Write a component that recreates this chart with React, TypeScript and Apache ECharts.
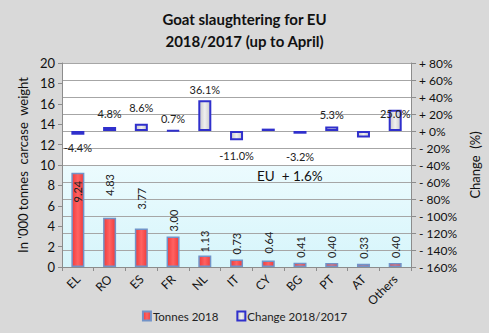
import React, { useEffect, useRef } from "react";
import * as echarts from "echarts";

const categories = ["EL", "RO", "ES", "FR", "NL", "IT", "CY", "BG", "PT", "AT", "Others"];
const tonnes2018 = [9.24, 4.83, 3.77, 3.0, 1.13, 0.73, 0.64, 0.41, 0.4, 0.33, 0.4];
const change = [-4.4, 4.8, 8.6, 0.7, 36.1, -11.0, 2.8, -3.2, 5.3, -7.5, 25.0];
const changeLabelShown = [true, true, true, true, true, true, false, true, true, false, true];
const euTotalText = "EU  + 1.6%";

// label styling (distances in px)
const tonnesLabelGap = [8, 22, 19, 5, 3, 5, 7, 5, 5, 5, 5];
const changeLabelGap = [7, 7.5, 11, 6, 5, 10, 6, 17, 6, 6, -9];

const FONT = "Lato, 'DejaVu Sans', sans-serif";

export default function App() {
  const ref = useRef<HTMLDivElement>(null);
  useEffect(() => {
    if (!ref.current) return;
    const chart = echarts.init(ref.current, null, { renderer: "svg" });

    const redFill = new echarts.graphic.LinearGradient(0, 0, 1, 0, [
      { offset: 0, color: "#f03c3c" },
      { offset: 0.5, color: "#ff6262" },
      { offset: 1, color: "#f03c3c" },
    ]);
    const greyFill = new echarts.graphic.LinearGradient(0, 0, 1, 0, [
      { offset: 0, color: "#c8c8c8" },
      { offset: 0.5, color: "#f0f0f0" },
      { offset: 1, color: "#c8c8c8" },
    ]);

    const tonnesData = tonnes2018.map((v, i) => {
      const inside = i === 0;
      return {
        value: v,
        label: {
          show: true,
          position: inside ? "insideTop" : "top",
          rotate: 90,
          align: inside ? "right" : "left",
          verticalAlign: "middle",
          distance: tonnesLabelGap[i],
          formatter: (p: any) => Number(p.value).toFixed(2),
          fontSize: 11,
          color: "#222",
          fontFamily: FONT,
        },
      };
    });

    const changeData = change.map((v, i) => ({
      value: v,
      label: {
        show: changeLabelShown[i],
        position: v >= 0 ? "top" : "bottom",
        distance: changeLabelGap[i],
        formatter: (p: any) => Number(p.value).toFixed(1) + "%",
        fontSize: 11,
        color: "#222",
        fontFamily: FONT,
      },
    }));

    chart.setOption({
      animation: false,
      backgroundColor: "#d9d9d9",
      textStyle: { fontFamily: FONT },
      title: {
        text: "Goat slaughtering for EU\n2018/2017 (up to April)",
        left: "center",
        top: 3,
        textStyle: {
          fontSize: 15,
          fontWeight: "bold",
          color: "#111",
          lineHeight: 22,
          fontFamily: FONT,
        },
      },
      legend: {
        bottom: 6,
        left: "center",
        itemWidth: 8,
        itemHeight: 9,
        itemGap: 18,
        icon: "rect",
        textStyle: { fontSize: 11.5, color: "#222", fontFamily: FONT, padding: [0, 0, 0, -3] },
        data: ["Tonnes 2018", "Change 2018/2017"],
      },
      grid: {
        left: 62,
        right: 70,
        top: 63,
        bottom: 66,
        show: true,
        borderWidth: 0,
        backgroundColor: new echarts.graphic.LinearGradient(0, 0, 0, 1, [
          { offset: 0, color: "#ffffff" },
          { offset: 0.5, color: "#ffffff" },
          { offset: 0.5, color: "#ecfbfe" },
          { offset: 1, color: "#d6f5fb" },
        ]),
      },
      graphic: [
        {
          type: "text",
          left: 257,
          top: 169,
          style: { text: euTotalText, fontSize: 13.5, fill: "#111", fontFamily: FONT },
        },
      ],
      xAxis: {
        type: "category",
        data: categories,
        axisLine: { lineStyle: { color: "#8c8c8c" } },
        axisTick: { show: true, alignWithLabel: false, length: 4, lineStyle: { color: "#8c8c8c" } },
        axisLabel: { rotate: 45, interval: 0, fontSize: 12, color: "#111", margin: 10, fontFamily: FONT },
      },
      yAxis: [
        {
          type: "value",
          min: 0,
          max: 20,
          interval: 2,
          position: "left",
          name: "In '000 tonnes  carcase  weight",
          nameLocation: "middle",
          nameGap: 26,
          nameTextStyle: { fontSize: 13, color: "#111", fontFamily: FONT },
          axisLine: { show: true, lineStyle: { color: "#8c8c8c" } },
          axisTick: { show: true, length: 4, lineStyle: { color: "#8c8c8c" } },
          axisLabel: { fontSize: 13, color: "#111", margin: 7, fontFamily: FONT },
          splitLine: { show: false },
        },
        {
          type: "value",
          min: -160,
          max: 80,
          interval: 20,
          position: "right",
          name: "Change  (%)",
          nameLocation: "middle",
          nameGap: 54,
          nameRotate: 90,
          nameTextStyle: { fontSize: 13, color: "#111", fontFamily: FONT },
          axisLine: { show: true, lineStyle: { color: "#8c8c8c" } },
          axisTick: { show: true, length: 5, lineStyle: { color: "#8c8c8c" } },
          axisLabel: {
            fontSize: 12,
            color: "#111",
            margin: 8,
            fontFamily: FONT,
            formatter: (v: number) => (v >= 0 ? "+ " + v + "%" : "- " + Math.abs(v) + "%"),
          },
          splitLine: { show: true, lineStyle: { color: "#a6a6a6", width: 1 } },
        },
      ],
      series: [
        {
          name: "Tonnes 2018",
          type: "bar",
          yAxisIndex: 0,
          barWidth: 13,
          barGap: "-100%",
          data: tonnesData,
          itemStyle: { color: redFill, borderColor: "#7293c8", borderWidth: 1.5 },
        },
        {
          name: "Change 2018/2017",
          type: "bar",
          yAxisIndex: 1,
          barWidth: 13,
          barGap: "-100%",
          data: changeData,
          itemStyle: { color: greyFill, borderColor: "#3030cc", borderWidth: 2 },
        },
      ],
    });
    return () => chart.dispose();
  }, []);
  return (
    <div
      ref={ref}
      style={{ position: "fixed", left: 0, top: 0, width: 489, height: 333 }}
    />
  );
}
